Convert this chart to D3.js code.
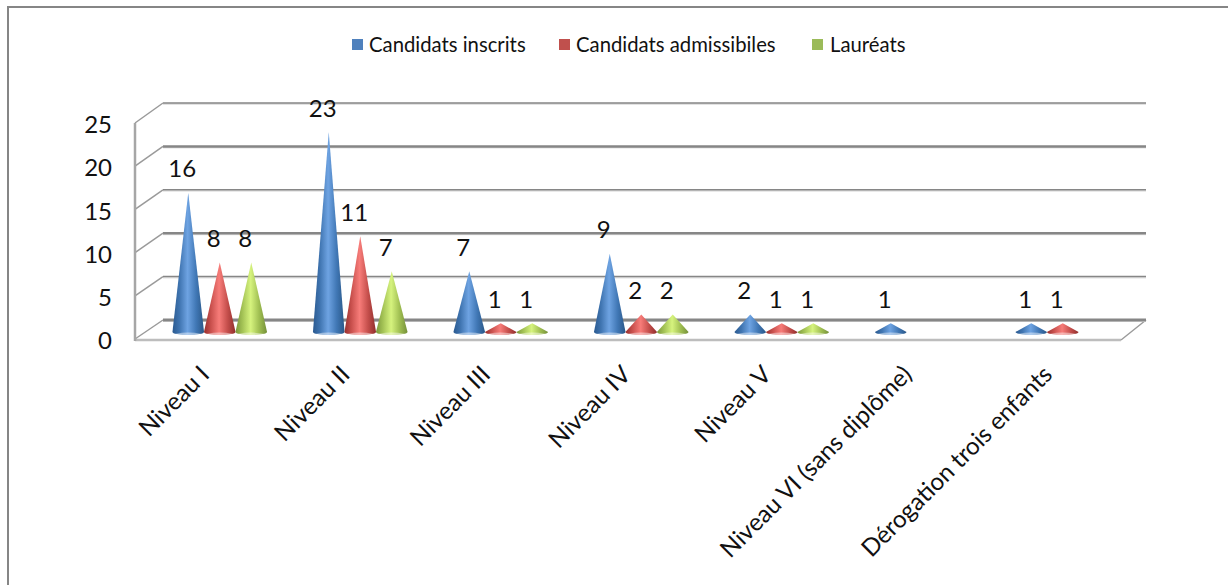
<!DOCTYPE html>
<html><head><meta charset="utf-8">
<script src="https://cdn.jsdelivr.net/npm/d3@7"></script>
<style>html,body{margin:0;padding:0;background:#fff;overflow:hidden}svg{display:block}
text{font-family:Lato,"Open Sans",sans-serif;fill:#111}</style></head>
<body><svg id="c" width="1228" height="585"></svg>
<script>
const categories=["Niveau I","Niveau II","Niveau III","Niveau IV","Niveau V","Niveau VI (sans diplôme)","Dérogation trois enfants"];
const seriesNames=["Candidats inscrits","Candidats admissibiles","Lauréats"];
const inscrits=[16,23,7,9,2,1,1];
const admissibles=[8,11,1,2,1,null,1];
const laureats=[8,7,1,2,1,null,null];
const yTicks=[0,5,10,15,20,25];
const seriesValues=[inscrits,admissibles,laureats];
const legendColors=["#4f81bd","#c0504d","#9bbb59"];
const ramps=[["#2b5a90","#3f74b0","#6ea3e2","#4077b5","#2a5787"],
             ["#97302e","#c9504d","#f77c79","#c44e4b","#8f2e2c"],
             ["#7b973c","#a3c255","#d6f37e","#a0bf52","#75903a"]];

const svg=d3.select("#c");
const defs=svg.append("defs");
ramps.forEach((r,i)=>{
  const g=defs.append("linearGradient").attr("id","g"+i);
  d3.zip([0,.22,.48,.75,1],r).forEach(([o,c])=>g.append("stop").attr("offset",o).attr("stop-color",c));
});

// frame
svg.append("path").attr("d",d3.line()([[8,585],[8,7],[1228,7]])).attr("fill","none").attr("stroke","#868686").attr("stroke-width",2);

const yBack=d3.scaleLinear().domain([0,25]).range([320,103]);
const yFront=d3.scaleLinear().domain([0,25]).range([339,123]);
const yCone=d3.scaleLinear().domain([0,23]).range([332,132]);
const xL=135,xBack=163,xEnd=1146,xFrontEnd=1121;
const x0=d3.scaleBand().domain(categories).range([149.5,1133]).padding(0);
const x1=d3.scaleBand().domain(d3.range(3)).range([-47.25,47.25]);

// floor
svg.append("path").attr("d",d3.line()([[xL,339],[xBack,320],[xEnd,320],[xFrontEnd,339]])).attr("fill","#fff");
svg.append("line").attr("x1",xL).attr("x2",xFrontEnd).attr("y1",340).attr("y2",340).attr("stroke","#bdbdbd").attr("stroke-width",2.5);
svg.append("line").attr("x1",xFrontEnd).attr("x2",xEnd).attr("y1",340).attr("y2",320).attr("stroke","#9a9a9a").attr("stroke-width",1.5);
// grid
const gridW=[3,1.5,2.5,1.5,2.5,1.5];
yTicks.forEach((t,i)=>{
  svg.append("line").attr("x1",xBack).attr("x2",xEnd).attr("y1",yBack(t)+1).attr("y2",yBack(t)+1).attr("stroke","#e2e2e2").attr("stroke-width",2);
  svg.append("line").attr("x1",xBack).attr("x2",xEnd).attr("y1",yBack(t)).attr("y2",yBack(t)).attr("stroke","#868686").attr("stroke-width",gridW[i]);
  svg.append("line").attr("x1",xL).attr("x2",xBack).attr("y1",yFront(t)).attr("y2",yBack(t)).attr("stroke","#9a9a9a").attr("stroke-width",1.5);
});
svg.append("line").attr("x1",xL).attr("x2",xL).attr("y1",yFront(25)).attr("y2",yFront(0)+2).attr("stroke","#a6a6a6").attr("stroke-width",2.5);

// y axis
const ax=svg.append("g").attr("transform",`translate(112,0)`).call(d3.axisLeft(yFront).tickValues(yTicks).tickSize(0).tickPadding(0));
ax.select(".domain").remove();
ax.selectAll("text").attr("font-size",24).style("font-family","Lato,sans-serif").attr("fill","#111").attr("dy","0.4em").attr("x",0);

// x axis labels
const bx=svg.append("g").attr("transform","translate(0,350)").call(d3.axisBottom(x0).tickSize(0).tickPadding(0));
bx.select(".domain").remove();
bx.selectAll("text").attr("font-size",24.2).style("font-family","Lato,sans-serif").attr("fill","#111")
  .attr("text-anchor","end").attr("dy",0).attr("y",0).attr("x",0)
  .attr("transform","translate(-9,26) rotate(-45)");

// cones
const halfW=15.8, ry=3;
seriesValues.forEach((vals,s)=>{
  const g=svg.append("g");
  vals.forEach((v,c)=>{
    if(v==null)return;
    const cx=x0(categories[c])+x0.bandwidth()/2+x1(s)+x1.bandwidth()/2;
    const by=yCone(0), ty=yCone(v);
    g.append("path")
      .attr("d",`M${cx},${ty}L${cx+halfW},${by}A${halfW},${ry} 0 0 1 ${cx-halfW},${by}Z`)
      .attr("fill",`url(#g${s})`);
    g.append("path")
      .attr("d",`M${cx+halfW*.8},${by+ry*.6}A${halfW},${ry} 0 0 1 ${cx-halfW*.8},${by+ry*.6}Q${cx},${by-ry*.2} ${cx+halfW*.8},${by+ry*.6}Z`)
      .attr("fill","#fff").attr("opacity",.45);
    svg.append("text").attr("x",cx-6).attr("y",ty-25).attr("dy","0.4em")
      .attr("text-anchor","middle").attr("font-size",24).text(v);
  });
});

// legend
const lx=[352,559,812], tx=[369,576,830];
seriesNames.forEach((n,i)=>{
  svg.append("rect").attr("x",lx[i]).attr("y",39).attr("width",11).attr("height",11).attr("fill",legendColors[i]);
  svg.append("text").attr("x",tx[i]).attr("y",45).attr("dy","0.36em").attr("font-size",20.3).text(n);
});
</script></body></html>
